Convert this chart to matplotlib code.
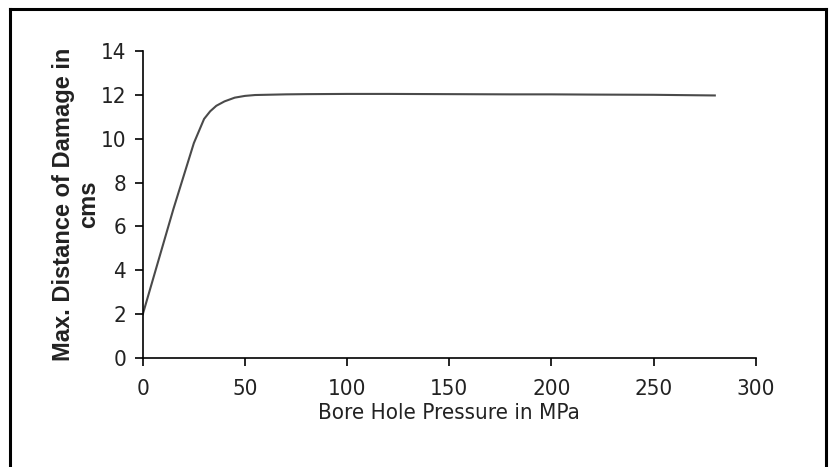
import matplotlib
matplotlib.use("Agg")
import matplotlib.pyplot as plt
from matplotlib.lines import Line2D

pressure = [0, 5, 10, 15, 20, 25, 30, 33, 36, 40, 45, 50, 55, 60, 70, 80, 100, 120, 150, 180, 200, 220, 250, 280]
damage = [2.0, 3.6, 5.2, 6.8, 8.3, 9.8, 10.9, 11.25, 11.5, 11.7, 11.87, 11.95, 11.99, 12.0, 12.02, 12.03, 12.04, 12.04, 12.03, 12.02, 12.02, 12.01, 12.0, 11.97]
xticks = [0, 50, 100, 150, 200, 250, 300]
yticks = [0, 2, 4, 6, 8, 10, 12, 14]

fig = plt.figure(figsize=(8.35, 4.67), dpi=100)
ax = fig.add_axes([0.171, 0.233, 0.734, 0.658])
ax.plot(pressure, damage, color='#4a4a4a', lw=1.5)
ax.set_xlim(0, 300)
ax.set_ylim(0, 14)
ax.set_xticks(xticks)
ax.set_yticks(yticks)
for s in ['top', 'right']:
    ax.spines[s].set_visible(False)
for s in ['left', 'bottom']:
    ax.spines[s].set_linewidth(1.2)
ax.tick_params(direction='out', length=6, width=1.2, labelsize=16)
ax.tick_params(axis='x', pad=9)
ax.tick_params(axis='y', pad=6)
for lab in ax.get_xticklabels() + ax.get_yticklabels():
    lab.set_family('DejaVu Sans')
    lab.set_stretch('condensed')
    lab.set_color('#222222')
ax.set_xlabel('Bore Hole Pressure in MPa', family='DejaVu Sans', stretch='condensed',
              fontsize=16, color='#222222', labelpad=3)
ax.set_ylabel('Max. Distance of Damage in\ncms', family=['Liberation Sans', 'DejaVu Sans'],
              fontweight='bold', fontsize=17, color='#222222', labelpad=0, linespacing=1.15)

# figure frame
fig.add_artist(Line2D([10/835, 10/835], [0, 1 - 9/467], transform=fig.transFigure, color='black', lw=2.2))
fig.add_artist(Line2D([10/835, 826/835], [1 - 9/467, 1 - 9/467], transform=fig.transFigure, color='black', lw=2.2))
fig.add_artist(Line2D([826/835, 826/835], [0, 1 - 9/467], transform=fig.transFigure, color='black', lw=2.2))

fig.savefig('out.png', dpi=100)
